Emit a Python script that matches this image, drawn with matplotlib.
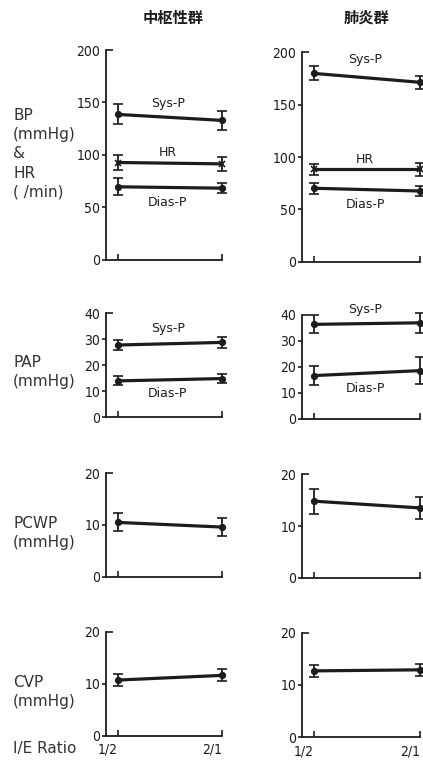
import matplotlib.pyplot as plt

plt.rcParams['font.family'] = ['DejaVu Sans']

# I/E ratio settings on the x axis
ratios = ['1/2', '2/1']
groups = ['中枢性群', '肺炎群']

# Central group (中枢性群): mean values and SD at I/E 1/2 and 2/1
bp_sys_c, bp_sys_c_sd = [138.5, 132.8], [9.5, 9.0]
hr_c, hr_c_sd = [92.6, 91.3], [7.5, 7.0]
bp_dias_c, bp_dias_c_sd = [69.4, 68.1], [8.0, 5.0]
pap_sys_c, pap_sys_c_sd = [27.8, 28.8], [2.0, 2.0]
pap_dias_c, pap_dias_c_sd = [14.0, 14.9], [1.7, 1.7]
pcwp_c, pcwp_c_sd = [10.5, 9.6], [1.75, 1.7]
cvp_c, cvp_c_sd = [10.7, 11.6], [1.2, 1.15]

# Pneumonia group (肺炎群)
bp_sys_p, bp_sys_p_sd = [180.0, 171.5], [6.7, 6.0]
hr_p, hr_p_sd = [88.3, 88.3], [5.5, 6.0]
bp_dias_p, bp_dias_p_sd = [70.2, 67.6], [5.0, 5.0]
pap_sys_p, pap_sys_p_sd = [36.4, 37.0], [3.5, 3.9]
pap_dias_p, pap_dias_p_sd = [16.7, 18.6], [3.8, 5.2]
pcwp_p, pcwp_p_sd = [14.8, 13.5], [2.45, 2.2]
cvp_p, cvp_p_sd = [12.7, 12.9], [1.2, 1.15]

row_labels = ['BP\n(mmHg)\n&\nHR\n( /min)', 'PAP\n(mmHg)', 'PCWP\n(mmHg)', 'CVP\n(mmHg)']
row_ymax = [200, 40, 20, 20]
row_ystep = [50, 10, 10, 10]

# (values, sd, marker, label, label y) per panel
panels = [
    [
        [(bp_sys_c, bp_sys_c_sd, 'o', 'Sys-P', 149), (hr_c, hr_c_sd, 'x', 'HR', 102.5),
         (bp_dias_c, bp_dias_c_sd, 'o', 'Dias-P', 54)],
        [(bp_sys_p, bp_sys_p_sd, 'o', 'Sys-P', 193), (hr_p, hr_p_sd, 'x', 'HR', 98),
         (bp_dias_p, bp_dias_p_sd, 'o', 'Dias-P', 55)],
    ],
    [
        [(pap_sys_c, pap_sys_c_sd, 'o', 'Sys-P', 34.2), (pap_dias_c, pap_dias_c_sd, 'o', 'Dias-P', 9)],
        [(pap_sys_p, pap_sys_p_sd, 'o', 'Sys-P', 42), (pap_dias_p, pap_dias_p_sd, 'o', 'Dias-P', 11.8)],
    ],
    [[(pcwp_c, pcwp_c_sd, 'o', None, 0)], [(pcwp_p, pcwp_p_sd, 'o', None, 0)]],
    [[(cvp_c, cvp_c_sd, 'o', None, 0)], [(cvp_p, cvp_p_sd, 'o', None, 0)]],
]

W, H = 423, 760
col_x = [(106, 116), (302, 118)]
row_y = [[(50, 259.5), (52.5, 261.7)],
         [(313.3, 417.3), (315, 419)],
         [(473.3, 576.7), (474.3, 577.7)],
         [(631.7, 735.7), (632.7, 737.3)]]
label_y = [108, 355, 516, 675]
title_x = [173, 367]

ink = '#1c1c1c'
num = dict(family='DejaVu Sans', stretch='condensed', fontsize=10, color=ink)

fig = plt.figure(figsize=(W / 100, H / 100), dpi=100)

for r in range(4):
    for c in range(2):
        x0, w = col_x[c]
        top, bot = row_y[r][c]
        ax = fig.add_axes([x0 / W, 1 - bot / H, w / W, (bot - top) / H])
        ymax = row_ymax[r]
        ax.set_xlim(-0.115, 1.0)
        ax.set_ylim(0, ymax)
        for s in ['top', 'right']:
            ax.spines[s].set_visible(False)
        for s in ['left', 'bottom']:
            ax.spines[s].set_linewidth(1.3)
            ax.spines[s].set_color(ink)

        ax.set_yticks(list(range(0, ymax, row_ystep[r])))
        ax.set_yticks([ymax], minor=True)
        ax.set_yticklabels([str(v) for v in range(0, ymax, row_ystep[r])], **num)
        ax.set_yticklabels([str(ymax)], minor=True, **num)
        ax.tick_params(axis='y', which='major', direction='out', length=3, width=1.2, pad=1, color=ink)
        ax.tick_params(axis='y', which='minor', direction='in', length=5, width=1.2, pad=4, color=ink)

        ax.set_xticks([0, 1])
        ax.tick_params(axis='x', direction='in', length=4, width=1.2, pad=5, color=ink)
        if r == 3:
            ax.set_xticklabels(ratios, ha='right', **num)
        else:
            ax.set_xticklabels([])

        for vals, sd, mk, lab, ly in panels[r][c]:
            ax.errorbar([0, 1], vals, yerr=sd, color=ink, lw=2.3, marker=mk,
                        ms=4 if mk == 'o' else 5, mew=1.2, capsize=3.5, capthick=1.3,
                        elinewidth=1.3, clip_on=False)
            if lab:
                ax.text(0.48, ly, lab, ha='center', va='center', fontsize=9, color=ink)

        if r == 0:
            fig.text(title_x[c] / W, 1 - 18 / H, groups[c], ha='center', va='center',
                     fontsize=11, fontweight='bold', family=['Noto Sans CJK JP'], color=ink)

    fig.text(13 / W, 1 - label_y[r] / H, row_labels[r], ha='left', va='top',
             fontsize=11, color='#333333', linespacing=1.35)

fig.text(13 / W, 1 - 748 / H, 'I/E Ratio', ha='left', va='center', fontsize=11, color='#333333')

fig.savefig('out.png', dpi=100)
